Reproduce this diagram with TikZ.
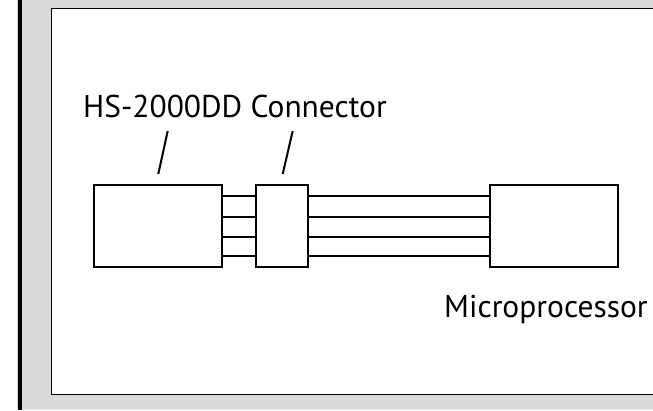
\documentclass[tikz,border=0pt]{standalone}
\usepackage{fontspec}
\setmainfont{PT Sans}
\begin{document}
\begin{tikzpicture}[x=1pt,y=1pt,
  blk/.style={draw=black,line width=2pt,fill=white,minimum height=82pt,inner sep=0pt},
  wire/.style={draw=black,line width=2pt},
  tick/.style={draw=black,line width=2pt},
  lbl/.style={font=\fontsize{31.5}{33}\selectfont,inner sep=0pt}]
\useasboundingbox (0,0) rectangle (653,-410);
% gray frame
\fill[gray!30!white] (17,0) rectangle (653,-409);
\fill[gray!15!white] (17,-409) rectangle (653,-410);
\fill[black] (17.5,0) rectangle (22,-410);
\fill[white] (51.5,-8) rectangle (660,-394);
\draw[black,line width=1pt] (660,-8) -- (51.5,-8) -- (51.5,-394) -- (660,-394);
% blocks
\node[blk,minimum width=127.7pt] (hs) at (157.85,-226) {};
\node[blk,minimum width=52pt] (conn) at (281.7,-226) {};
\node[blk,minimum width=127.7pt] (mp) at (553.85,-226) {};
% wires
\foreach \y in {196,216.5,236.7,256}{
  \draw[wire] (hs.east |- 0,-\y) -- (conn.west |- 0,-\y);
  \draw[wire] (conn.east |- 0,-\y) -- (mp.west |- 0,-\y);
}
% labels
\node[lbl,anchor=base west] (t1) at (83,-117) {HS-2000DD Connector};
\node[lbl,anchor=base west] (t2) at (444,-317) {Microprocessor};
\coordinate (a1) at (167.7,-131);
\coordinate (b1) at (158.3,-174);
\coordinate (a2) at (292.7,-131);
\coordinate (b2) at (282.7,-174);
\draw[tick] (a1) -- (b1);
\draw[tick] (a2) -- (b2);
\end{tikzpicture}
\end{document}
